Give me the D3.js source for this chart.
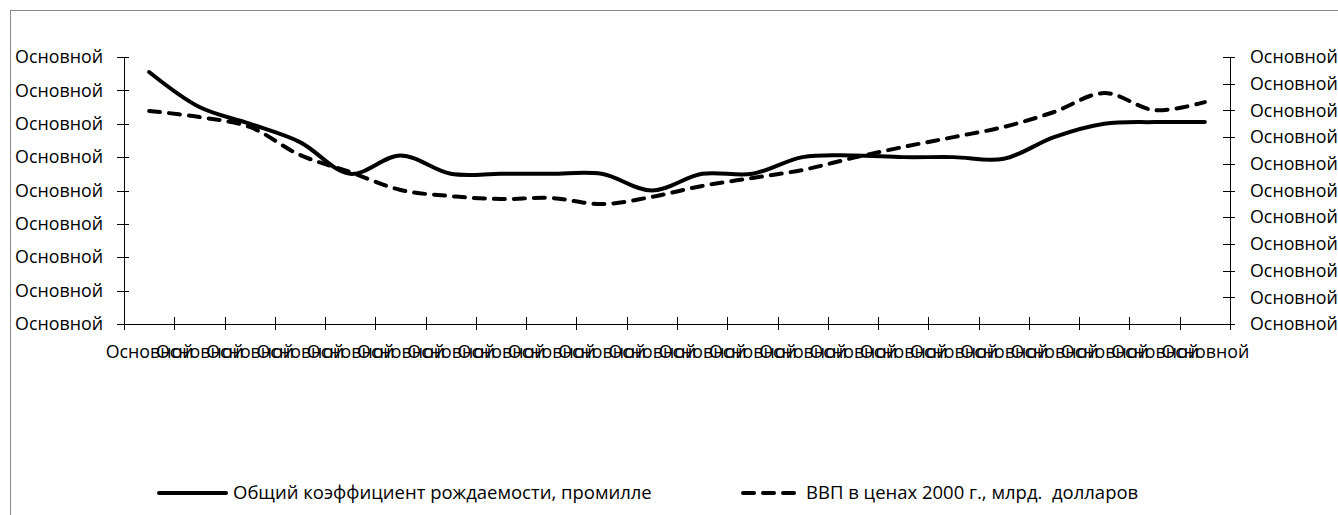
<!DOCTYPE html>
<html>
<head>
<meta charset="utf-8">
<script src="https://cdn.jsdelivr.net/npm/d3@7"></script>
<style>
  html, body { margin: 0; padding: 0; background: #fff; }
  svg { display: block; }
  text { font-family: "Open Sans", "Noto Sans", sans-serif; fill: #000; }
</style>
</head>
<body>
<svg id="chart" width="1338" height="515"></svg>
<script>
// ---- data ----
const categories = ["Основной","Основной","Основной","Основной","Основной","Основной","Основной","Основной","Основной","Основной","Основной",
                    "Основной","Основной","Основной","Основной","Основной","Основной","Основной","Основной","Основной","Основной","Основной"];
const leftTickValues = [0, 2, 4, 6, 8, 10, 12, 14, 16];
const leftTickLabels = ["Основной","Основной","Основной","Основной","Основной","Основной","Основной","Основной","Основной"];
const rightTickValues = [0, 100, 200, 300, 400, 500, 600, 700, 800, 900, 1000];
const rightTickLabels = ["Основной","Основной","Основной","Основной","Основной","Основной","Основной","Основной","Основной","Основной","Основной"];
const birthRate = [15.1, 13.0, 12.0, 10.9, 9.0, 10.1, 9.0, 9.0, 9.0, 9.0, 8.0, 9.0, 9.0, 10.0, 10.1, 10.0, 10.0, 9.9, 11.2, 12.0, 12.1, 12.1];
const gdp = [798, 775, 738, 633, 569, 502, 479, 468, 472, 449, 476, 517, 547, 577, 622, 663, 700, 738, 794, 865, 801, 831];
const seriesNames = ["Общий коэффициент рождаемости, промилле", "ВВП в ценах 2000 г., млрд.  долларов"];

// ---- layout ----
const svg = d3.select("#chart");
const plot = { left: 124, right: 1230, top: 57, bottom: 324 };
const font = "\"Open Sans\", \"Noto Sans\", sans-serif";

// fit a font size so a text has a target width
function fitSize(str, targetWidth) {
  const t = svg.append("text").attr("font-size", 100).style("font-family", font).text(str);
  const w = t.node().getComputedTextLength();
  t.remove();
  return 100 * targetWidth / w;
}
const axisFontSize = fitSize("Основной", 88);
const legendFontSize = fitSize(seriesNames[0], 419);

// chart frame
svg.append("rect")
  .attr("x", 10.5).attr("y", 10.5)
  .attr("width", 1400).attr("height", 600)
  .attr("fill", "none").attr("stroke", "#8a8a8a").attr("stroke-width", 1);

// scales
const idx = categories.map((d, i) => i);
const x = d3.scalePoint().domain(idx).range([plot.left, plot.right]).padding(0.5);
const xEdge = d3.scaleLinear().domain([0, categories.length]).range([plot.left, plot.right]);
const yL = d3.scaleLinear().domain([0, 16]).range([plot.bottom, plot.top]);
const yR = d3.scaleLinear().domain([0, 1000]).range([plot.bottom, plot.top]);

// left axis
const gL = svg.append("g").attr("transform", `translate(${plot.left},0)`)
  .call(d3.axisLeft(yL).tickValues(leftTickValues).tickFormat((d, i) => leftTickLabels[i])
    .tickSizeInner(7).tickSizeOuter(0).tickPadding(14));
gL.selectAll(".tick line").attr("x1", 5);

// right axis
const gR = svg.append("g").attr("transform", `translate(${plot.right},0)`)
  .call(d3.axisRight(yR).tickValues(rightTickValues).tickFormat((d, i) => rightTickLabels[i])
    .tickSizeInner(5).tickSizeOuter(0).tickPadding(15));
gR.selectAll(".tick line").attr("x1", -7);

// bottom axis: tick marks at category edges
const gB = svg.append("g").attr("transform", `translate(0,${plot.bottom})`)
  .call(d3.axisBottom(xEdge).tickValues(d3.range(0, categories.length + 1)).tickFormat("")
    .tickSizeInner(6).tickSizeOuter(0));
gB.selectAll(".tick line").attr("y1", -7);

// bottom labels at category centers
const gBL = svg.append("g").attr("transform", `translate(0,${plot.bottom})`)
  .call(d3.axisBottom(x).tickFormat(i => categories[i]).tickSize(0).tickPadding(21));
gBL.select(".domain").remove();

[gL, gR, gB, gBL].forEach(g => {
  g.selectAll("text").attr("font-size", axisFontSize).style("font-family", font).attr("fill", "#000");
  g.selectAll("line, path").attr("stroke", "#000").attr("shape-rendering", "crispEdges");
});

// lines
const lineL = d3.line().x((d, i) => x(i)).y(d => yL(d)).curve(d3.curveCatmullRom.alpha(0.5));
const lineR = d3.line().x((d, i) => x(i)).y(d => yR(d)).curve(d3.curveCatmullRom.alpha(0.5));

svg.append("path").datum(birthRate).attr("d", lineL)
  .attr("fill", "none").attr("stroke", "#000").attr("stroke-width", 4)
  .attr("stroke-linejoin", "round").attr("stroke-linecap", "round");

svg.append("path").datum(gdp).attr("d", lineR)
  .attr("fill", "none").attr("stroke", "#000").attr("stroke-width", 4)
  .attr("stroke-dasharray", "11,9").attr("stroke-linecap", "round");

// legend
const legendY = 493;
const legendItems = [
  { x1: 159, x2: 226, tx: 233, dash: null, label: seriesNames[0] },
  { x1: 743, x2: 800, tx: 806, dash: "11,9", label: seriesNames[1] }
];
const lg = svg.append("g");
legendItems.forEach(it => {
  lg.append("line").attr("x1", it.x1).attr("x2", it.x2).attr("y1", legendY).attr("y2", legendY)
    .attr("stroke", "#000").attr("stroke-width", 4).attr("stroke-linecap", "round")
    .attr("stroke-dasharray", it.dash);
  lg.append("text").attr("x", it.tx).attr("y", legendY).attr("dy", "0.35em")
    .attr("font-size", legendFontSize).style("font-family", font)
    .style("white-space", "pre").attr("xml:space", "preserve").text(it.label);
});
</script>
</body>
</html>
